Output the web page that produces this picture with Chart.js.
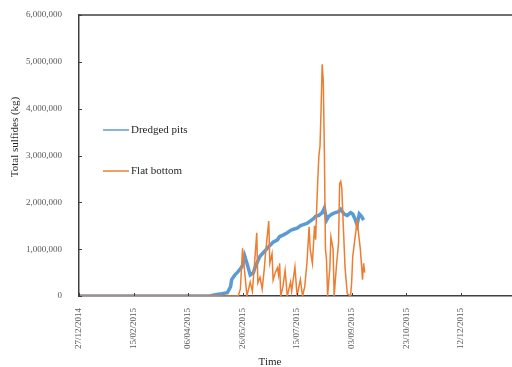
<!DOCTYPE html>
<html>
<head>
<meta charset="utf-8">
<script src="https://cdn.jsdelivr.net/npm/chart.js@4"></script>
<style>
html, body { margin: 0; padding: 0; background: #fff; overflow: hidden; }
#wrap { width: 512px; height: 367px; overflow: hidden; }
#box { width: 530px; height: 367px; }
</style>
</head>
<body>
<div id="wrap"><div id="box"><canvas id="sulfideChart"></canvas></div></div>
<script>

// -------------------------------------
// DATA (days since 27/12/2014, values in kg)
// -------------------------------------

const startDate = new Date(2014, 11, 27);
const tickDays = [0, 50, 100, 150, 200, 250, 300, 350, 400];
const yTicks = [0, 1000000, 2000000, 3000000, 4000000, 5000000, 6000000];

const pitsDays = [0, 120, 125, 131, 136, 139, 140, 143, 145, 148, 150, 152, 154, 157, 160, 161, 164, 166, 170, 172, 175, 178, 182, 184, 187, 191, 194, 196, 200, 203, 205, 209, 212, 215, 217, 220, 223, 225, 227, 229, 232, 235, 238, 240, 243, 246, 249, 251, 253, 255, 257, 259, 261];
const pitsVals = [0, 0, 30000, 50000, 70000, 200000, 350000, 450000, 500000, 580000, 650000, 850000, 700000, 450000, 500000, 580000, 750000, 850000, 950000, 1000000, 1080000, 1150000, 1200000, 1270000, 1300000, 1350000, 1400000, 1420000, 1450000, 1500000, 1520000, 1550000, 1600000, 1650000, 1700000, 1720000, 1780000, 1880000, 1620000, 1700000, 1750000, 1780000, 1800000, 1850000, 1750000, 1720000, 1780000, 1750000, 1650000, 1520000, 1750000, 1700000, 1620000];

const flatDays = [0, 146, 148, 149, 150, 152, 154, 157, 159, 161, 163, 164, 166, 168, 170, 171, 174, 175, 177, 178, 180, 182, 183, 184, 185, 187, 189, 191, 193, 194, 195, 198, 200, 203, 205, 207, 209, 211, 212, 214, 216, 217, 218, 219, 220, 221, 222, 223, 224, 225, 226, 227, 228, 230, 231, 233, 234, 236, 238, 239, 240, 241, 242, 244, 246, 249, 250, 251, 254, 255, 257, 258, 260, 261, 262];
const flatVals = [0, 0, 150000, 600000, 1020000, 500000, 0, 300000, 100000, 700000, 1350000, 280000, 400000, 150000, 600000, 900000, 1600000, 700000, 900000, 340000, 500000, 600000, 450000, 700000, 0, 200000, 550000, 0, 200000, 300000, 100000, 620000, 0, 350000, 0, 200000, 700000, 1480000, 1000000, 700000, 1500000, 1200000, 1900000, 2500000, 3000000, 3200000, 4000000, 4950000, 4600000, 3100000, 1000000, 770000, 0, 600000, 1260000, 1000000, 0, 620000, 1130000, 2400000, 2450000, 2300000, 1700000, 600000, 50000, 0, 280000, 840000, 1400000, 1650000, 1200000, 1000000, 350000, 700000, 500000];

const seriesNames = ["Dredged pits", "Flat bottom"];
const seriesColors = ["#5B9BD5", "#ED7D31"];


// -------------------------------------
// HELPERS
// -------------------------------------

function toPoints(days, vals){
return days.map((d, i) => ({ x: d, y: vals[i] }));
}

function dayLabel(d){
const dt = new Date(startDate.getTime());
dt.setDate(dt.getDate() + d);
const dd = String(dt.getDate()).padStart(2, "0");
const mm = String(dt.getMonth() + 1).padStart(2, "0");
return dd + "/" + mm + "/" + dt.getFullYear();
}

const serif = "'Liberation Serif', 'Times New Roman', serif";


// -------------------------------------
// EXTRAS: frame, inside ticks, legend, axis titles
// -------------------------------------

const extrasPlugin = {
id: "extras",
afterDraw(chart){
const ctx = chart.ctx;
const area = chart.chartArea;
const xs = chart.scales.x;
const ys = chart.scales.y;

ctx.save();
ctx.strokeStyle = "#404040";
ctx.lineWidth = 1.5;
ctx.beginPath();
ctx.moveTo(area.left, area.top);
ctx.lineTo(area.right + 10, area.top);
ctx.stroke();

ctx.lineWidth = 1;
tickDays.forEach(d => {
const px = Math.round(xs.getPixelForValue(d)) + 0.5;
ctx.beginPath();
ctx.moveTo(px, area.bottom);
ctx.lineTo(px, area.bottom - 3);
ctx.stroke();
});
yTicks.forEach(v => {
const py = Math.round(ys.getPixelForValue(v)) + 0.5;
ctx.beginPath();
ctx.moveTo(area.left, py);
ctx.lineTo(area.left + 3, py);
ctx.stroke();
});

// legend
const legendY = [130, 171];
ctx.font = "11px " + serif;
ctx.textBaseline = "middle";
ctx.textAlign = "left";
seriesNames.forEach((name, i) => {
ctx.strokeStyle = seriesColors[i];
ctx.lineWidth = 1.5;
ctx.beginPath();
ctx.moveTo(103, legendY[i]);
ctx.lineTo(129, legendY[i]);
ctx.stroke();
ctx.fillStyle = "#262626";
ctx.fillText(name, 131, legendY[i]);
});

// axis titles
ctx.fillStyle = "#262626";
ctx.font = "11px " + serif;
ctx.textAlign = "center";
ctx.fillText("Time", 270, 362);

ctx.translate(15, 137);
ctx.rotate(-Math.PI / 2);
ctx.fillText("Total sulfides (kg)", 0, 0);
ctx.restore();
}
};


// -------------------------------------
// CHART
// -------------------------------------

const ctx = document.getElementById("sulfideChart").getContext("2d");

new Chart(ctx, {

type: "line",

data: {
datasets: [{
label: seriesNames[1],
data: toPoints(flatDays, flatVals),
borderColor: seriesColors[1],
borderWidth: 1.5,
pointRadius: 0,
tension: 0,
order: 0
}, {
label: seriesNames[0],
data: toPoints(pitsDays, pitsVals),
borderColor: seriesColors[0],
borderWidth: 3.5,
pointRadius: 0,
tension: 0,
order: 1
}]
},

options: {
responsive: true,
maintainAspectRatio: false,
animation: false,
layout: { padding: { top: 15, right: 5, left: 0, bottom: 0 } },
plugins: {
legend: { display: false },
tooltip: { enabled: false }
},
scales: {
x: {
type: "linear",
min: 0,
max: 400,
afterBuildTicks: scale => { scale.ticks = tickDays.map(v => ({ value: v })); },
afterFit: scale => { scale.height = 71; },
grid: { display: false },
border: { display: true, color: "#404040", width: 1.5 },
ticks: {
minRotation: 90,
maxRotation: 90,
padding: 4,
color: "#595959",
font: { family: serif, size: 9 },
callback: v => dayLabel(v)
}
},
y: {
min: 0,
max: 6000000,
afterBuildTicks: scale => { scale.ticks = yTicks.map(v => ({ value: v })); },
afterFit: scale => { scale.width = 79; },
grid: { display: false },
border: { display: true, color: "#404040", width: 1.5 },
ticks: {
padding: 9,
color: "#595959",
font: { family: serif, size: 9 },
callback: v => v.toLocaleString("en-US")
}
}
}
},

plugins: [extrasPlugin]

});

</script>
</body>
</html>
